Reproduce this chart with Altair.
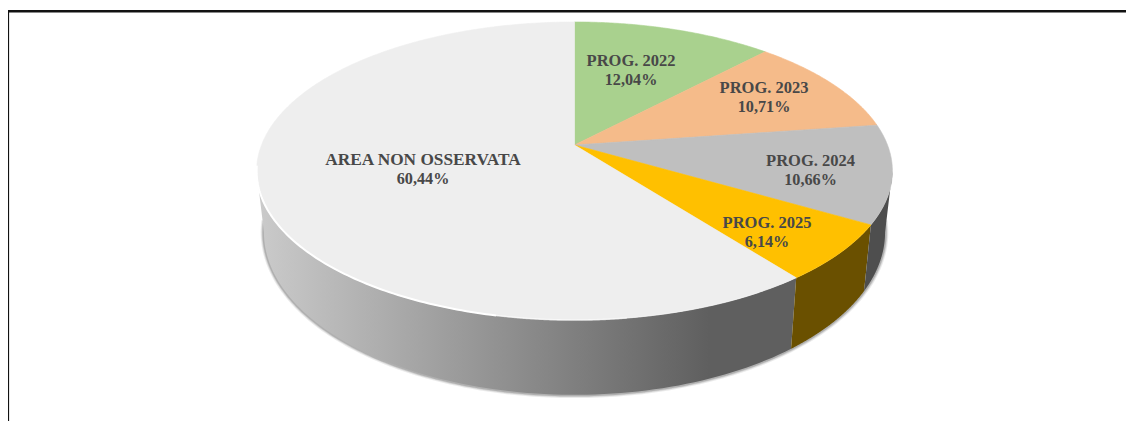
import numpy as np
import pandas as pd
import altair as alt

names = ["PROG. 2022", "PROG. 2023", "PROG. 2024", "PROG. 2025", "AREA NON OSSERVATA"]
share_labels = ["12,04%", "10,71%", "10,66%", "6,14%", "60,44%"]
shares = [12.04, 10.71, 10.66, 6.14, 60.44]
colors = ["#A9D18E", "#F5BB8A", "#BFBFBF", "#FFC000", "#EEEEEE"]
wall_colors = {"right": "#4E4E4E", "gold": "#6A5000"}

# perspective of the tilted disc
K = 0.1745
RX, RY = 313.0, 144.5
CX, CY = 566.5, 137.0   # pie centre inside the plot area
W, H = 1118, 413
SX, SY, DROP = 0.977, 1.09, 59.0 / RY


def top(theta):
    t = np.radians(theta)
    w = 1 + K * np.cos(t)
    return np.sin(t) / w, np.cos(t) / w


def bottom(theta):
    x, y = top(theta)
    return SX * x, SY * y - DROP


x_scale = alt.Scale(domain=[-CX / RX, (W - CX) / RX], range=[0, W], nice=False, zero=False)
y_scale = alt.Scale(domain=[(CY - H) / RY, CY / RY], range=[H, 0], nice=False, zero=False)
X = alt.X("x:Q", scale=x_scale, axis=None)
Y = alt.Y("y:Q", scale=y_scale, axis=None)


def poly(xs, ys):
    return pd.DataFrame({"x": xs, "y": ys, "i": range(len(xs))})


def shape(df, fill, stroke=None):
    m = alt.Chart(df).mark_line(
        fill=fill, stroke=stroke if stroke else "transparent",
        strokeWidth=0.6 if stroke else 0, interpolate="linear", clip=False)
    return m.encode(x=X, y=Y, order="i:Q")


def wall(a, b, fill, stroke=None):
    th = np.linspace(a, b, 90)
    tx, ty = top(th)
    bx, by = bottom(th[::-1])
    return shape(poly(np.r_[tx, bx, tx[0]], np.r_[ty, by, ty[0]]), fill, stroke)


cum = np.cumsum([0] + shares) * 3.6
cum[-1] = 360.0

layers = []

# soft shadow under the wall
sh = np.linspace(96, 264, 200)
sx, sy = bottom(sh)
shadow_df = poly(sx, sy)
for sw, op in [(6.5, 0.10), (4.5, 0.14), (3, 0.2)]:
    layers.append(alt.Chart(shadow_df).mark_line(color="#333333", strokeWidth=sw, opacity=op)
                  .encode(x=X, y=Y, order="i:Q"))

# walls
grad = alt.Gradient(
    gradient="linear", x1=0, x2=1, y1=0, y2=0,
    stops=[alt.GradientStop(color="#CBCBCB", offset=0),
           alt.GradientStop(color="#5F5F5F", offset=0.84),
           alt.GradientStop(color="#5F5F5F", offset=1)])
layers.append(wall(cum[4], 260, grad))
layers.append(wall(cum[3], cum[4], wall_colors["gold"]))
layers.append(wall(100, cum[3], wall_colors["right"]))

# top slices
for a, b, c in zip(cum[:-1], cum[1:], colors):
    th = np.linspace(a, b, max(int(b - a) * 2, 20))
    tx, ty = top(th)
    layers.append(shape(poly(np.r_[0, tx, 0], np.r_[0, ty, 0]), c, c))

# white bevel on the rim of the big slice, fading towards the right
for a, b, sw, op in [(192, 262, 2, 1.0), (172, 192, 1.6, 0.6), (150, 172, 1.2, 0.3)]:
    th = np.linspace(a, b, 90)
    rx, ry = top(th)
    layers.append(alt.Chart(poly(rx, ry)).mark_line(color="#FFFFFF", strokeWidth=sw, opacity=op)
                  .encode(x=X, y=Y, order="i:Q"))

# labels: anchor of each slice's text block
label_x = np.array([631, 764, 810.5, 767, 423], dtype=float)
label_y = np.array([70.2, 97.2, 170.7, 232, 169.2], dtype=float)
name_sizes = [16.5, 16.5, 16.5, 16.5, 17.3]
for n, s, lx, ly, fs in zip(names, share_labels, label_x, label_y, name_sizes):
    row = pd.DataFrame({"x": [(lx - 8 - CX) / RX], "y": [(CY - (ly - 8)) / RY], "a": [n], "b": [s]})
    for field, dy, size in (("a", -9.5, fs), ("b", 9.5, 16.2)):
        layers.append(alt.Chart(row).mark_text(
            font="Liberation Serif", fontWeight="bold", fontSize=size, color="#484848",
            align="center", baseline="middle", dy=dy
        ).encode(x=X, y=Y, text=f"{field}:N"))

# frame of the picture
frame = pd.DataFrame({"a": [0]})
layers.append(alt.Chart(frame).mark_rule(color="#111111", strokeWidth=2.5)
              .encode(x=alt.value(0), x2=alt.value(W), y=alt.value(3.2)))
layers.append(alt.Chart(frame).mark_rule(color="#111111", strokeWidth=2.2)
              .encode(x=alt.value(0), y=alt.value(2), y2=alt.value(H)))

chart = alt.layer(*layers).properties(
    width=W, height=H, padding=0,
    autosize=alt.AutoSizeParams(type="none"),
    background="white",
).configure_view(stroke=None)

chart.save("out.html", embed_options={"renderer": "svg", "actions": False})
